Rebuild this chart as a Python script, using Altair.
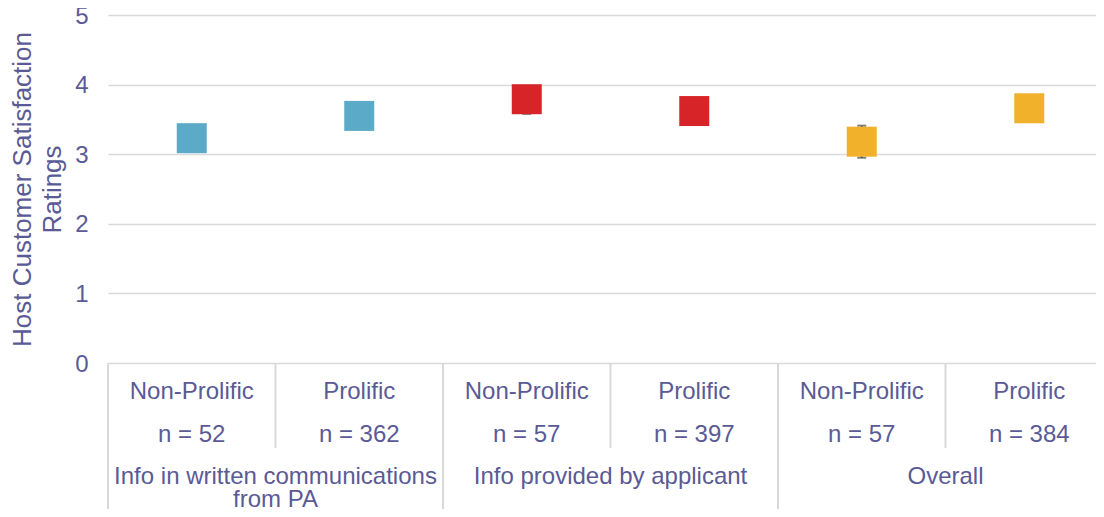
import altair as alt
import pandas as pd

# ---- data ----
groups = ["Info in written communications\nfrom PA", "Info in written communications\nfrom PA",
          "Info provided by applicant", "Info provided by applicant",
          "Overall", "Overall"]
types = ["Non-Prolific", "Prolific", "Non-Prolific", "Prolific", "Non-Prolific", "Prolific"]
n_values = [52, 362, 57, 397, 57, 384]
means = [3.23, 3.55, 3.79, 3.62, 3.18, 3.66]
lowers = [3.04, 3.36, 3.58, 3.45, 2.95, 3.49]
uppers = [3.42, 3.74, 3.98, 3.79, 3.41, 3.83]
colors = ["#5AAAC8", "#5AAAC8", "#D62428", "#D62428", "#F2B12B", "#F2B12B"]

TXT = "#5A5A96"
GRID = "#D9D9D9"
FONT = "Liberation Sans"

keys = [f"{g}|{t}" for g, t in zip(groups, types)]
df = pd.DataFrame({
    "key": keys,
    "group": groups,
    "type": types,
    "nlabel": [f"n = {n}" for n in n_values],
    "mean": means,
    "lower": lowers,
    "upper": uppers,
    "color": colors,
})

xscale = alt.Scale(domain=keys, range=[0, 1005], paddingInner=0, paddingOuter=0)
yscale = alt.Scale(domain=[0, 5])
yaxis = alt.Axis(
    values=[0, 1, 2, 3, 4, 5], grid=True, gridColor=GRID, gridWidth=1.5,
    domain=False, ticks=False, labelFontSize=24, labelColor=TXT, labelFont=FONT,
    labelPadding=20, labelOffset=1,
    title=["Host Customer Satisfaction", "Ratings"], titleFontSize=26,
    titleFontWeight="normal", titleColor=TXT, titleFont=FONT,
    titleAngle=-90, titleX=-86, titleY=174, titleBaseline="middle",
    titleAlign="center", titleLineHeight=30,
)

base = alt.Chart(df).encode(
    x=alt.X("key:N", sort=None, scale=xscale, axis=None)
)

err = base.mark_rule(color="#444444", strokeWidth=1.5).encode(
    y=alt.Y("lower:Q", scale=yscale, axis=yaxis), y2="upper:Q"
)
cap_lo = base.mark_tick(orient="horizontal", size=9, thickness=2, color="#444444").encode(
    y=alt.Y("lower:Q", scale=yscale, axis=yaxis)
)
cap_hi = base.mark_tick(orient="horizontal", size=9, thickness=2, color="#444444").encode(
    y=alt.Y("upper:Q", scale=yscale, axis=yaxis)
)
squares = base.mark_square(size=900, opacity=1).encode(
    y=alt.Y("mean:Q", scale=yscale, axis=yaxis),
    color=alt.Color("color:N", scale=None),
)

row1 = base.mark_text(fontSize=24, color=TXT, font=FONT, baseline="middle").encode(
    y=alt.value(377), text="type:N"
)
row2 = base.mark_text(fontSize=24, color=TXT, font=FONT, baseline="middle").encode(
    y=alt.value(420), text="nlabel:N"
)
row3 = alt.Chart(df).transform_filter(alt.datum.type == "Non-Prolific").mark_text(
    fontSize=24, color=TXT, font=FONT, baseline="top", lineBreak="\n", lineHeight=23
).encode(
    x=alt.X("key:N", sort=None, scale=xscale, axis=None, bandPosition=1),
    y=alt.value(450), text="group:N"
)

sep_full = alt.Chart(df).transform_filter(alt.datum.type == "Non-Prolific").mark_rule(
    color=GRID, strokeWidth=2
).encode(
    x=alt.X("key:N", sort=None, scale=xscale, axis=None, bandPosition=0),
    y=alt.value(348), y2=alt.value(515)
)
sep_short = alt.Chart(df).transform_filter(alt.datum.type == "Prolific").mark_rule(
    color=GRID, strokeWidth=2
).encode(
    x=alt.X("key:N", sort=None, scale=xscale, axis=None, bandPosition=0),
    y=alt.value(348), y2=alt.value(433)
)

chart = alt.layer(
    sep_full, sep_short, err, cap_lo, cap_hi, squares, row1, row2, row3
).properties(
    width=988, height=348,
    autosize=alt.AutoSizeParams(type="none"),
    padding={"left": 100, "top": 7, "right": 0, "bottom": 146},
).configure_view(stroke=None)

chart.save("out.html", embed_options={"renderer": "svg", "actions": False})
